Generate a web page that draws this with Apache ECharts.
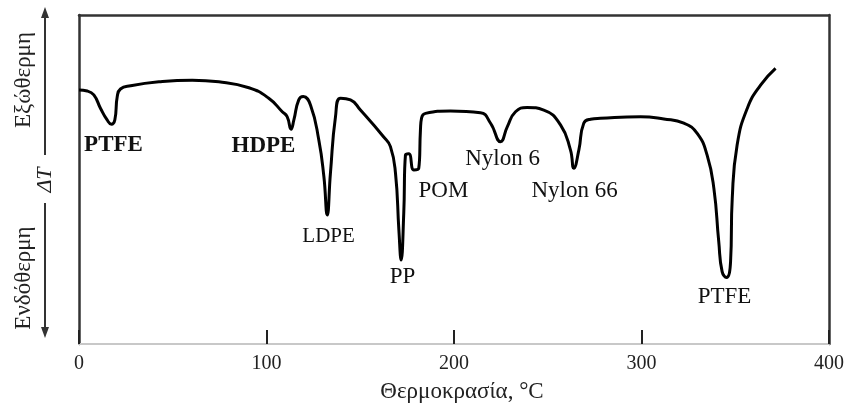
<!DOCTYPE html>
<html>
<head>
<meta charset="utf-8">
<script src="https://cdn.jsdelivr.net/npm/echarts@6/dist/echarts.min.js"></script>
<style>html,body{margin:0;padding:0;background:#fff;}#c{width:849px;height:410px;}</style>
</head>
<body>
<div id="c"></div>
<script>
// Temperature (°C) and ΔT (arbitrary units, 0 = bottom of frame, 100 = top)
var temps = [0,4.4,7.9,11.5,15.0,17.3,19.1,20.4,22.1,27.5,42.6,60.4,74.6,90.6,101.2,108.4,111.0,113.1,114.6,117.2,119.6,123.5,127.9,130.6,132.4,134.1,136.8,139.5,144.8,150.1,162.4,166.1,168.8,170.6,171.8,173.2,174.1,175.9,178.6,181.2,182.1,182.7,184.8,198.1,214.1,219.5,224.8,228.4,232.8,239.0,247.9,256.8,262.1,263.9,266.6,269.2,272.8,278.1,299.5,311.9,322.6,329.7,335.0,338.6,341.2,343.0,345.3,347.5,348.4,351.0,356.4,363.5,371.5];
var deltaT = [77.2,76.9,75.7,71.6,68.1,66.8,68.1,75.2,77.5,78.5,79.7,80.2,79.7,77.9,74.7,70.6,69.1,65.3,68.1,74.2,75.2,72.6,62.0,50.9,39.2,51.9,69.1,74.7,74.2,71.1,63.0,60.0,51.9,34.7,25.5,39.7,57.4,57.8,52.9,53.4,65.0,68.7,70.1,70.8,70.3,67.1,61.5,66.0,70.6,71.9,71.1,66.6,59.0,53.4,59.0,67.1,68.3,68.6,69.1,68.4,67.1,64.0,57.4,47.3,31.1,22.0,20.2,25.0,44.3,60.5,71.6,78.7,83.8];
var peakNames = ['PTFE','HDPE','LDPE','PP','POM','Nylon 6','Nylon 66','PTFE'];
var peakLabelT = [18.4,98.4,133.1,172.5,194.4,225.9,264.3,344.3];
var peakLabelV = [60.5,60.2,32.8,20.4,46.5,56.2,46.5,14.3];
var peakBold = [true,true,false,false,false,false,false,false];
var xTicks = [0,100,200,300,400];

var serif = 'Liberation Serif';
var chart = echarts.init(document.getElementById('c'));
var labelData = peakNames.map(function(n,i){
  return {value:[peakLabelT[i],peakLabelV[i]], name:n,
    label:{fontWeight: peakBold[i]?'bold':'normal', fontSize: n==='LDPE'?21:23}};
});
chart.setOption({
  animation:false,
  grid:{left:79,right:20,top:15,bottom:66},
  xAxis:[{
    type:'value',min:xTicks[0],max:xTicks[xTicks.length-1],interval:100,
    axisLine:{show:true,lineStyle:{color:'#c8c8c8',width:2}},
    axisTick:{show:true,inside:true,length:14,lineStyle:{color:'#222',width:2}},
    axisLabel:{fontFamily:serif,fontSize:20,color:'#222',margin:10},
    splitLine:{show:false},
    name:'Θερμοκρασία, °C',nameLocation:'middle',nameGap:36,
    nameTextStyle:{fontFamily:serif,fontSize:23,color:'#222',padding:[0,0,0,16]}
  },{
    type:'value',position:'top',min:0,max:400,
    axisLine:{show:true,onZero:false,lineStyle:{color:'#333',width:2.5}},
    axisTick:{show:false},axisLabel:{show:false},splitLine:{show:false}
  }],
  yAxis:[{
    type:'value',min:0,max:100,
    axisLine:{show:true,onZero:false,lineStyle:{color:'#333',width:2.5}},
    axisTick:{show:false},axisLabel:{show:false},splitLine:{show:false}
  },{
    type:'value',position:'right',min:0,max:100,
    axisLine:{show:true,onZero:false,lineStyle:{color:'#333',width:2.5}},
    axisTick:{show:false},axisLabel:{show:false},splitLine:{show:false}
  }],
  series:[{
    type:'line',
    data:temps.map(function(t,i){return [t,deltaT[i]];}),
    smooth:0.5,
    symbol:'none',
    lineStyle:{color:'#000',width:3}
  },{
    type:'scatter',
    data:labelData,
    symbolSize:0,
    itemStyle:{color:'rgba(0,0,0,0)',opacity:1},
    label:{show:true,position:'inside',formatter:'{b}',fontFamily:serif,color:'#111'},
    emphasis:{disabled:true}
  }],
  graphic:[
    {type:'line',shape:{x1:45,y1:14,x2:45,y2:155},style:{stroke:'#333',lineWidth:2}},
    {type:'polygon',shape:{points:[[45,7],[41,18],[49,18]]},style:{fill:'#333'}},
    {type:'line',shape:{x1:45,y1:203,x2:45,y2:331},style:{stroke:'#333',lineWidth:2}},
    {type:'polygon',shape:{points:[[45,338],[41,327],[49,327]]},style:{fill:'#333'}},
    {type:'text',x:24,y:80,rotation:Math.PI/2,style:{text:'Εξώθερμη',font:'23px "Liberation Serif"',fill:'#222',align:'center',verticalAlign:'middle'}},
    {type:'text',x:45,y:180,rotation:Math.PI/2,style:{text:'ΔT',font:'italic 22px "Liberation Serif"',fill:'#222',align:'center',verticalAlign:'middle'}},
    {type:'text',x:24,y:278,rotation:Math.PI/2,style:{text:'Ενδόθερμη',font:'23px "Liberation Serif"',fill:'#222',align:'center',verticalAlign:'middle'}}
  ]
});
</script>
</body>
</html>
